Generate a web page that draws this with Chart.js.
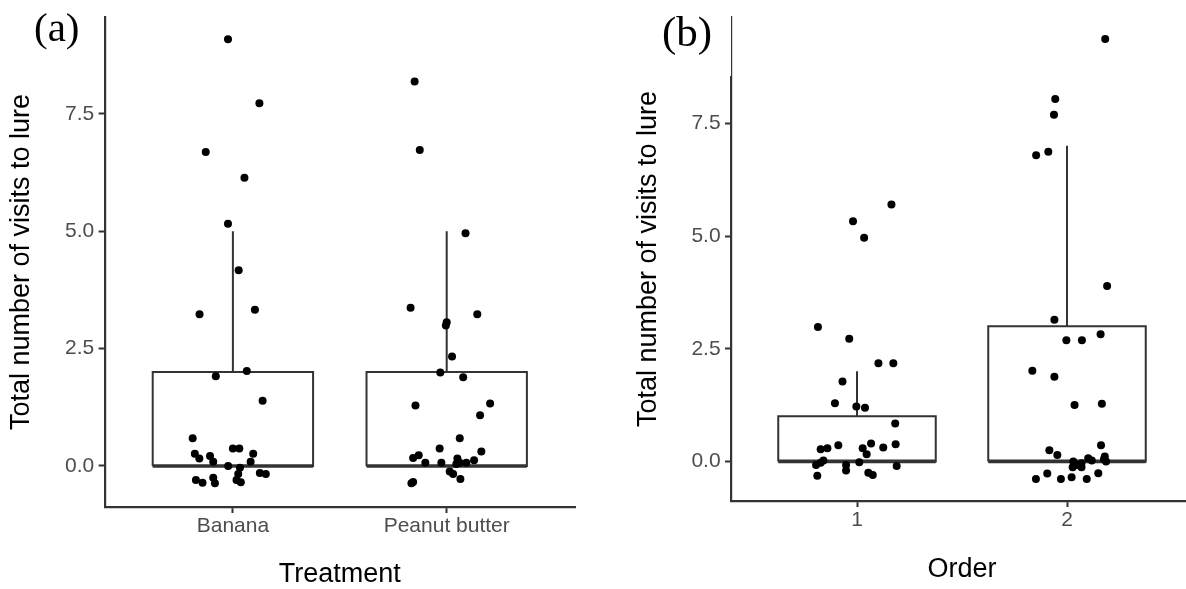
<!DOCTYPE html>
<html><head><meta charset="utf-8">
<script src="https://cdn.jsdelivr.net/npm/chart.js@4.4.0/dist/chart.umd.min.js"></script>
<style>
html,body{margin:0;padding:0;background:#fff;overflow:hidden;width:1186px;height:589px;position:relative;}
#ca{position:absolute;left:0;top:0;}
#cb{position:absolute;left:600px;top:0;}
</style></head><body>
<canvas id="ca" width="590" height="589"></canvas>
<canvas id="cb" width="600" height="589"></canvas>
<script>
// ---------- data ----------
const treatmentCategories = ['Banana', 'Peanut butter'];
const orderCategories = ['1', '2'];
const yTickValues = [0, 2.5, 5, 7.5];

// box statistics (Q1, median, Q3, whisker ends)
const treatmentQ1 = [0, 0];
const treatmentMedian = [0, 0];
const treatmentQ3 = [2, 2];
const treatmentWhiskerLow = [0, 0];
const treatmentWhiskerHigh = [5, 5];

const orderQ1 = [0, 0];
const orderMedian = [0, 0];
const orderQ3 = [1, 3];
const orderWhiskerLow = [0, 0];
const orderWhiskerHigh = [2, 7];

// jittered observations (x position on category axis, total visits)
const bananaX = [0.977, 1.124, 0.873, 1.054, 0.977, 1.027, 0.844, 1.103, 0.920, 1.065, 1.139, 0.812,
  0.822, 0.843, 0.893, 0.908, 1.000, 1.030, 1.095, 1.083, 0.978, 1.033, 1.025, 1.126, 1.154,
  0.827, 0.858, 0.908, 0.916, 1.017, 1.037];
const bananaVisits = [9.09, 7.73, 6.69, 6.14, 5.16, 4.17, 3.23, 3.33, 1.91, 2.02, 1.39, 0.59,
  0.26, 0.16, 0.21, 0.09, 0.37, 0.37, 0.26, 0.09, 0.00, -0.04, -0.17, -0.15, -0.17,
  -0.30, -0.36, -0.25, -0.37, -0.30, -0.35];

const peanutX = [1.850, 1.874, 2.088, 1.831, 2.143, 2.000, 1.996, 2.025, 1.970, 2.077, 1.854, 2.203, 2.156, 2.061,
  1.967, 2.162, 1.843, 1.869, 1.900, 1.975, 2.050, 2.061, 2.045, 2.092, 2.128, 2.014, 2.030, 2.064, 1.835, 1.843];
const peanutVisits = [8.19, 6.73, 4.96, 3.37, 3.23, 3.06, 2.99, 2.33, 1.99, 1.89, 1.29, 1.33, 1.08, 0.59,
  0.37, 0.31, 0.17, 0.23, 0.07, 0.07, 0.16, 0.07, 0.04, 0.07, 0.12, -0.12, -0.17, -0.28, -0.37, -0.34];

const order1X = [0.981, 1.034, 1.164, 0.814, 0.963, 1.102, 1.173, 0.931, 0.895, 0.997, 1.038, 1.182,
  0.827, 0.859, 0.911, 1.027, 1.046, 1.067, 1.125, 1.184, 0.805, 0.827, 0.840, 0.811, 0.948, 0.948,
  1.011, 1.054, 1.075, 1.189];
const order1Visits = [5.33, 4.96, 5.70, 2.98, 2.72, 2.18, 2.18, 1.77, 1.29, 1.22, 1.19, 0.84,
  0.27, 0.29, 0.36, 0.29, 0.16, 0.40, 0.31, 0.38, -0.08, -0.03, 0.02, -0.32, -0.08, -0.20,
  -0.02, -0.25, -0.30, -0.10];

const order2X = [2.182, 1.944, 1.938, 1.853, 1.911, 2.191, 1.940, 1.997, 2.071, 2.160, 1.835, 1.940, 2.036, 2.166,
  1.916, 1.954, 2.162, 2.030, 2.046, 2.027, 2.069, 2.069, 2.101, 2.118, 2.180, 2.186, 2.176,
  1.852, 1.906, 1.971, 2.022, 2.094, 2.149];
const order2Visits = [9.37, 8.04, 7.69, 6.79, 6.87, 3.89, 3.14, 2.69, 2.69, 2.82, 2.01, 1.88, 1.25, 1.28,
  0.25, 0.14, 0.36, 0.00, -0.08, -0.13, -0.04, -0.13, 0.07, 0.02, 0.11, 0.00, 0.05,
  -0.39, -0.27, -0.39, -0.35, -0.39, -0.26];

// ---------- drawing ----------
const LINE = '#333333';
const SANS = '"Liberation Sans", Arial, sans-serif';

function lineDs(data, w) {
  return { type: 'scatter', showLine: true, data: data, borderColor: LINE, borderWidth: w,
    pointRadius: 0, pointHoverRadius: 0, fill: false, tension: 0, order: 1,
    borderJoinStyle: 'miter', borderCapStyle: 'butt' };
}

const panelLabel = {
  id: 'panelLabel',
  afterDraw(chart, args, opts) {
    const ctx = chart.ctx;
    ctx.save();
    if (opts.cover) {
      ctx.fillStyle = '#ffffff';
      ctx.fillRect(opts.cover[0], opts.cover[1], opts.cover[2], opts.cover[3]);
    }
    ctx.fillStyle = '#000';
    ctx.font = opts.size + 'px "Liberation Serif", "Times New Roman", serif';
    ctx.textBaseline = 'alphabetic';
    ctx.textAlign = 'left';
    ctx.fillText(opts.text, opts.x, opts.y);
    ctx.restore();
  }
};

function makeChart(id, o) {
  const pts = [];
  o.groups.forEach(g => g.x.forEach((x, i) => pts.push({ x: x, y: g.y[i] })));
  const datasets = [{ type: 'scatter', data: pts, pointRadius: 4, pointHoverRadius: 4,
    backgroundColor: '#000', borderWidth: 0, order: 0 }];
  const hw = 0.375;
  for (let c = 0; c < o.categories.length; c++) {
    const cx = c + 1;
    datasets.push(lineDs([{ x: cx - hw, y: o.q1[c] }, { x: cx + hw, y: o.q1[c] }, { x: cx + hw, y: o.q3[c] },
      { x: cx - hw, y: o.q3[c] }, { x: cx - hw, y: o.q1[c] }], 2));
    datasets.push(lineDs([{ x: cx - hw, y: o.median[c] }, { x: cx + hw, y: o.median[c] }], 3.6));
    datasets.push(lineDs([{ x: cx, y: o.q3[c] }, { x: cx, y: o.high[c] }], 2));
    if (o.low[c] < o.q1[c]) datasets.push(lineDs([{ x: cx, y: o.low[c] }, { x: cx, y: o.q1[c] }], 2));
  }
  return new Chart(document.getElementById(id), {
    type: 'scatter',
    data: { datasets: datasets },
    plugins: [panelLabel],
    options: {
      responsive: false, animation: false, events: [],
      layout: { padding: { left: 0, top: o.padTop, right: o.padRight, bottom: 0 } },
      plugins: { legend: { display: false }, tooltip: { enabled: false }, panelLabel: o.label },
      scales: {
        x: {
          type: 'linear', min: 0.4, max: 2.6,
          afterBuildTicks: s => { s.ticks = [{ value: 1 }, { value: 2 }]; },
          afterFit: s => { s.height = o.xAxisHeight; },
          grid: { display: true, drawOnChartArea: false, drawTicks: true, tickLength: 6, tickWidth: 2, tickColor: LINE, color: LINE },
          border: { display: true, color: LINE, width: 2.2 },
          ticks: { color: '#4d4d4d', font: { family: SANS, size: 21 }, padding: 1, maxRotation: 0, autoSkip: false,
            callback: v => o.categories[Math.round(v) - 1] },
          title: { display: true, text: o.xTitle, color: '#000', font: { family: SANS, size: 27, lineHeight: 1 },
            padding: { top: 0, bottom: o.xTitlePad } }
        },
        y: {
          type: 'linear', min: o.yMin, max: o.yMax,
          afterBuildTicks: s => { s.ticks = yTickValues.map(v => ({ value: v })); },
          afterFit: s => { s.width = o.yAxisWidth; },
          grid: { display: true, drawOnChartArea: false, drawTicks: true, tickLength: 6, tickWidth: 2, tickColor: LINE, color: LINE },
          border: { display: true, color: LINE, width: 2.2 },
          ticks: { color: '#4d4d4d', font: { family: SANS, size: 21 }, padding: 4.4,
            callback: v => Number(v).toFixed(1) },
          title: { display: true, text: 'Total number of visits to lure', color: '#000',
            font: { family: SANS, size: 27, lineHeight: 1 }, padding: { top: o.yTitlePad, bottom: 0 } }
        }
      }
    }
  });
}

makeChart('ca', {
  categories: treatmentCategories,
  groups: [{ x: bananaX, y: bananaVisits }, { x: peanutX, y: peanutVisits }],
  q1: treatmentQ1, median: treatmentMedian, q3: treatmentQ3, low: treatmentWhiskerLow, high: treatmentWhiskerHigh,
  yMin: -0.875, yMax: 9.565,
  padTop: 10, padRight: 15, xAxisHeight: 82, yAxisWidth: 104.6,
  xTitle: 'Treatment', xTitlePad: 0.5, yTitlePad: 8.2,
  label: { text: '(a)', x: 34, y: 41, size: 41 }
});

makeChart('cb', {
  categories: orderCategories,
  groups: [{ x: order1X, y: order1Visits }, { x: order2X, y: order2Visits }],
  q1: orderQ1, median: orderMedian, q3: orderQ3, low: orderWhiskerLow, high: orderWhiskerHigh,
  yMin: -0.878, yMax: 9.858,
  padTop: 12, padRight: 7, xAxisHeight: 88, yAxisWidth: 131,
  xTitle: 'Order', xTitlePad: 6, yTitlePad: 35.3,
  label: { text: '(b)', x: 62, y: 46, size: 43, cover: [30, 0, 101, 76] }
});
</script>
</body></html>
